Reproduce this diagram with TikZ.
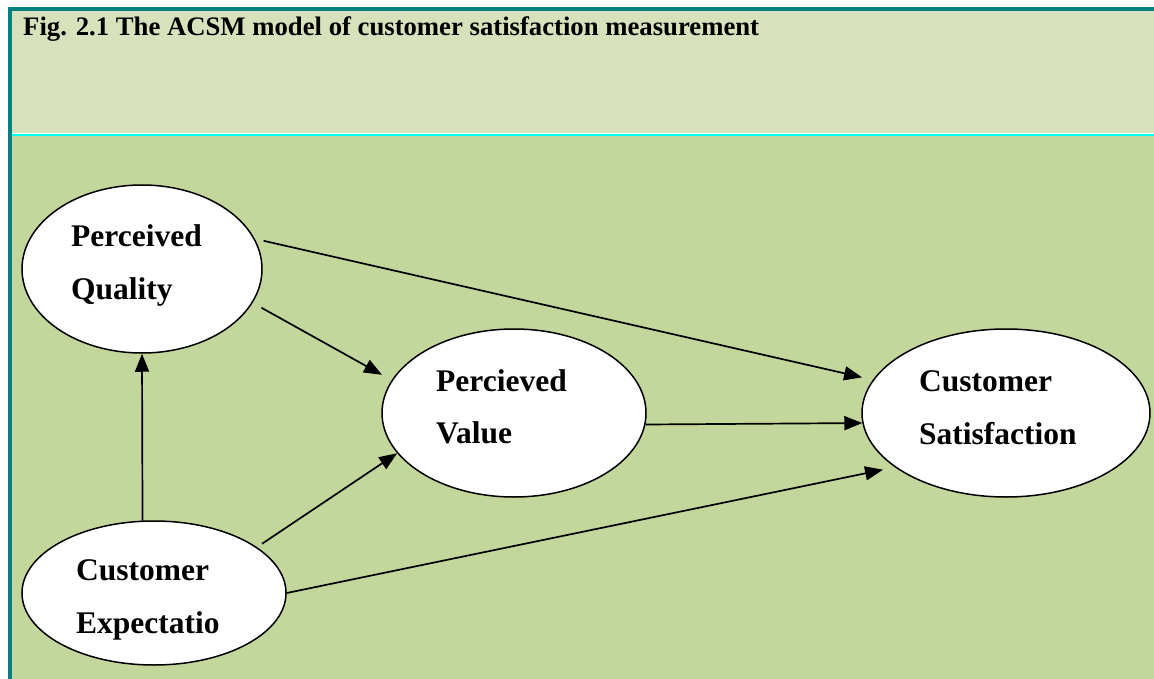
\documentclass[tikz,border=0pt]{standalone}
\usepackage{fontspec}
\setmainfont{Liberation Serif}
\usetikzlibrary{shapes.geometric,arrows.meta}
\definecolor{frameteal}{HTML}{008080}
\definecolor{headfill}{HTML}{D7E2BC}
\definecolor{bodyfill}{HTML}{C3D69B}
\definecolor{rulecyan}{HTML}{00FFFF}
\begin{document}
\begin{tikzpicture}[x=1pt,y=-1pt,
  construct/.style={ellipse,draw=black,line width=1.5pt,fill=white,inner sep=0pt},
  lbl/.style={anchor=base west,inner sep=0pt,font=\fontsize{31.5}{38}\selectfont\bfseries},
  link/.style={line width=1.7pt,-{Triangle[length=18pt,width=14pt]}}]
\useasboundingbox (0,0) rectangle (1154,679);
\fill[white] (0,0) rectangle (1154,679);
% caption panel and figure panel
\fill[headfill] (12,11) rectangle (1154,133.5);
\fill[white] (12,133.2) rectangle (1154,134);
\fill[rulecyan] (12,134) rectangle (1154,136);
\fill[bodyfill] (12,136) rectangle (1154,679);
\fill[frameteal] (8,7) rectangle (1154,11);
\fill[frameteal] (8,7) rectangle (12,679);
\node[anchor=base west,inner sep=0pt,font=\fontsize{26.7}{30}\selectfont\bfseries] (title) at (23,36)
  {Fig. 2.1 The ACSM model of customer satisfaction measurement};
% constructs
\node[construct,minimum width=240pt,minimum height=168pt] (pq) at (142,269) {};
\node[construct,minimum width=264pt,minimum height=168pt] (pv) at (514,413) {};
\node[construct,minimum width=288pt,minimum height=168pt] (cs) at (1006,413) {};
\node[construct,minimum width=264pt,minimum height=144pt] (ce) at (154,593) {};
% labels
\node[lbl] (pqa) at (71,247) {Perceived};
\node[lbl] (pqb) at (71,299) {Quality};
\node[lbl] (pva) at (436,391) {Percieved};
\node[lbl] (pvb) at (436,443) {Value};
\node[lbl] (csa) at (919,391) {Customer};
\node[lbl] (csb) at (919,444) {Satisfaction};
\node[lbl] (cea) at (76,580) {Customer};
\node[lbl] (ceb) at (76,633) {Expectatio};
% paths
\draw[link,shorten <=9pt,shorten >=11pt] (pq.15.8) -- (cs.166.3);
\draw[link,shorten <=10pt,shorten >=11pt] (pq.-17.1) -- (pv.165);
\draw[link] (ce.99.5) -- (pq.south);
\draw[link,shorten <=6pt] (ce.24) -- (pv.199.4);
\draw[link] (pv.-5.25) -- (cs.184.8);
\draw[link,shorten >=12pt] (ce.east) -- (cs.206.4);
\end{tikzpicture}
\end{document}
